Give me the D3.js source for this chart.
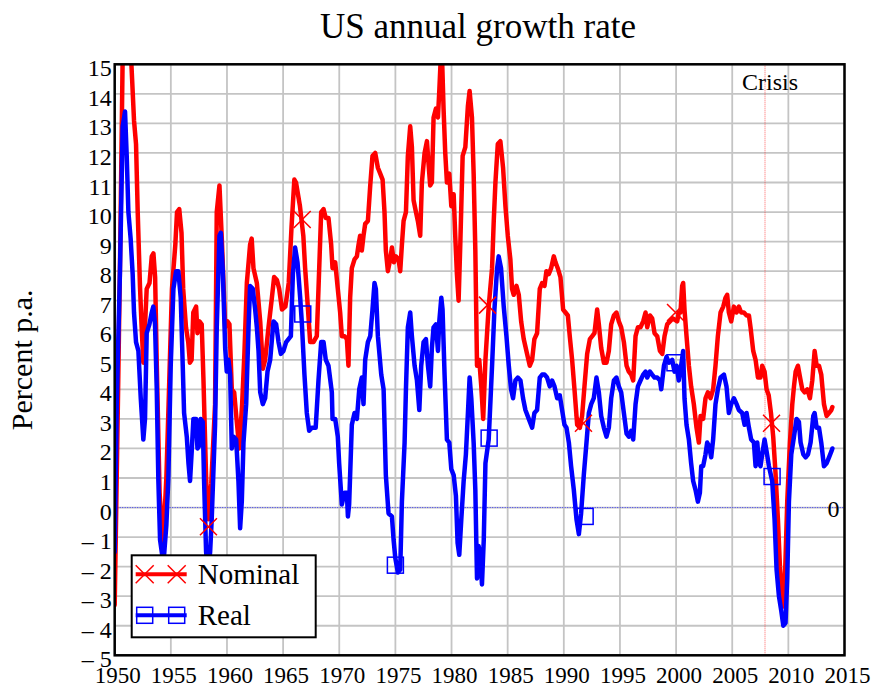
<!DOCTYPE html>
<html>
<head>
<meta charset="utf-8">
<script src="https://cdn.jsdelivr.net/npm/d3@7"></script>
<style>
  body { margin: 0; background: #fff; }
  svg { display: block; }
  svg text { font-family: "Liberation Serif", "Times New Roman", serif; }
</style>
</head>
<body>
<div id="chart"></div>
<script>
// US annual growth rate, year-over-year, percent p.a.
const nominal = [
  [1950.0, -3.3], [1950.3, 3.9], [1950.5, 9.0], [1950.7, 15.0], [1951.0, 17.5], [1951.3, 16.5],
  [1951.55, 14.5], [1951.72, 13.1], [1951.9, 12.3], [1952.05, 10.0], [1952.25, 7.5], [1952.4, 6.1],
  [1952.55, 4.9], [1952.85, 7.4], [1953.1, 7.6], [1953.3, 8.5], [1953.45, 8.6], [1953.6, 7.8],
  [1953.75, 4.8], [1954.0, 0.5], [1954.3, -1.3], [1954.6, 1.0], [1954.8, 3.5], [1955.1, 7.4],
  [1955.4, 8.9], [1955.55, 10.0], [1955.75, 10.1], [1955.95, 9.3], [1956.1, 7.4], [1956.35, 6.1],
  [1956.55, 5.6], [1956.7, 4.9], [1956.85, 5.0], [1957.0, 6.6], [1957.25, 6.8], [1957.37, 5.9],
  [1957.55, 6.3], [1957.75, 6.2], [1957.9, 4.4], [1958.15, 0.9], [1958.35, -0.4], [1958.6, 0.8],
  [1958.94, 3.5], [1959.09, 10.0], [1959.33, 10.9], [1959.55, 9.0], [1959.84, 6.1], [1960.04, 6.3],
  [1960.22, 6.2], [1960.43, 4.0], [1960.64, 3.9], [1960.85, 3.0], [1961.1, 2.0], [1961.35, 3.5],
  [1961.55, 5.2], [1961.77, 7.6], [1962.06, 8.9], [1962.2, 9.1], [1962.36, 8.1], [1962.66, 7.6],
  [1962.96, 6.3], [1963.2, 4.7], [1963.4, 5.0], [1963.7, 6.1], [1964.0, 7.1], [1964.2, 7.8],
  [1964.45, 7.7], [1964.65, 7.4], [1964.9, 6.7], [1965.2, 6.8], [1965.5, 7.6], [1965.75, 9.5],
  [1966.0, 11.1], [1966.15, 11.0], [1966.37, 10.5], [1966.5, 10.2], [1966.8, 9.2], [1966.96, 8.1],
  [1967.2, 6.8], [1967.41, 5.6], [1967.7, 5.6], [1968.0, 5.8], [1968.15, 7.4], [1968.39, 10.0],
  [1968.6, 10.1], [1968.8, 9.8], [1969.04, 9.8], [1969.28, 8.9], [1969.4, 8.1], [1969.64, 8.3],
  [1969.87, 7.4], [1970.08, 6.6], [1970.23, 5.8], [1970.47, 5.8], [1970.68, 5.7], [1970.82, 4.8],
  [1970.97, 7.1], [1971.12, 8.1], [1971.36, 8.4], [1971.57, 8.5], [1971.72, 8.9], [1971.86, 9.2],
  [1972.01, 8.7], [1972.16, 9.2], [1972.31, 9.6], [1972.55, 9.7], [1972.76, 10.9], [1972.96, 11.9],
  [1973.2, 12.0], [1973.44, 11.5], [1973.65, 11.3], [1973.86, 11.1], [1974.03, 10.0], [1974.15, 8.7],
  [1974.33, 8.0], [1974.54, 8.4], [1974.69, 8.8], [1974.87, 8.3], [1975.04, 8.5], [1975.28, 8.4],
  [1975.43, 8.0], [1975.58, 8.9], [1975.73, 9.7], [1975.94, 10.0], [1976.11, 11.9], [1976.32, 12.9],
  [1976.47, 12.2], [1976.62, 10.4], [1976.83, 10.0], [1977.0, 9.7], [1977.21, 9.2], [1977.36, 11.0],
  [1977.6, 12.0], [1977.81, 12.4], [1977.96, 11.6], [1978.1, 10.9], [1978.25, 11.0], [1978.4, 13.2],
  [1978.61, 13.5], [1978.79, 13.2], [1978.91, 14.1], [1979.05, 15.3], [1979.15, 15.3], [1979.29, 13.5],
  [1979.44, 12.0], [1979.59, 11.0], [1979.8, 11.3], [1979.98, 10.2], [1980.19, 10.6], [1980.33, 9.2],
  [1980.48, 7.9], [1980.63, 7.0], [1980.78, 8.9], [1980.99, 11.9], [1981.23, 12.2], [1981.46, 13.6],
  [1981.61, 14.1], [1981.82, 13.2], [1981.97, 11.3], [1982.12, 8.7], [1982.27, 4.8], [1982.47, 5.0],
  [1982.65, 4.1], [1982.82, 3.0], [1983.02, 5.0], [1983.31, 6.8], [1983.61, 8.1], [1983.76, 9.7],
  [1983.91, 11.0], [1984.12, 12.3], [1984.35, 12.4], [1984.59, 11.5], [1984.8, 10.2], [1985.01, 9.2],
  [1985.24, 8.4], [1985.39, 7.4], [1985.54, 7.2], [1985.78, 7.5], [1985.99, 7.2], [1986.2, 6.3],
  [1986.43, 5.7], [1986.73, 5.2], [1986.97, 4.8], [1987.18, 5.0], [1987.38, 5.7], [1987.62, 5.9],
  [1987.86, 7.4], [1988.07, 7.6], [1988.28, 7.5], [1988.45, 8.0], [1988.66, 7.9], [1988.87, 8.1],
  [1989.11, 8.5], [1989.26, 8.3], [1989.46, 8.1], [1989.7, 7.8], [1989.94, 6.7], [1990.15, 6.6],
  [1990.36, 6.5], [1990.53, 5.8], [1990.74, 5.0], [1990.95, 4.0], [1991.19, 2.8], [1991.43, 2.7],
  [1991.63, 3.1], [1991.84, 4.1], [1992.08, 5.2], [1992.32, 5.7], [1992.53, 5.8], [1992.73, 5.9],
  [1992.97, 6.7], [1993.12, 6.2], [1993.33, 5.4], [1993.57, 4.9], [1993.8, 4.9], [1994.01, 5.3],
  [1994.22, 6.2], [1994.46, 6.5], [1994.69, 6.6], [1994.9, 6.3], [1995.11, 6.1], [1995.35, 5.6],
  [1995.59, 4.8], [1995.79, 4.6], [1996.0, 4.5], [1996.18, 4.3], [1996.39, 5.8], [1996.6, 6.1],
  [1996.83, 6.1], [1997.07, 6.3], [1997.28, 6.6], [1997.43, 6.1], [1997.67, 6.5], [1997.87, 6.4],
  [1998.08, 5.9], [1998.32, 5.8], [1998.56, 5.3], [1998.77, 5.2], [1998.97, 5.8], [1999.21, 6.2],
  [1999.45, 6.3], [1999.7, 6.4], [2000.1, 6.3], [2000.24, 6.6], [2000.39, 6.6], [2000.54, 7.5],
  [2000.63, 7.6], [2000.75, 6.7], [2000.93, 5.8], [2001.14, 4.8], [2001.34, 4.1], [2001.58, 3.5],
  [2001.82, 2.7], [2002.03, 2.2], [2002.18, 3.1], [2002.41, 3.0], [2002.62, 3.7], [2002.83, 3.9],
  [2003.07, 3.7], [2003.3, 4.0], [2003.51, 4.8], [2003.72, 5.8], [2003.96, 6.6], [2004.2, 6.8],
  [2004.4, 7.1], [2004.55, 7.2], [2004.7, 6.6], [2004.91, 6.3], [2005.15, 6.8], [2005.39, 6.6],
  [2005.59, 6.8], [2005.8, 6.6], [2006.04, 6.6], [2006.28, 6.5], [2006.49, 6.5], [2006.63, 6.1],
  [2006.87, 5.3], [2007.08, 5.0], [2007.29, 4.4], [2007.52, 4.4], [2007.67, 4.8], [2007.88, 4.6],
  [2008.06, 4.0], [2008.25, 3.8], [2008.45, 3.2], [2008.65, 2.4], [2008.85, 1.2], [2009.07, -0.4],
  [2009.25, -2.0], [2009.46, -3.0], [2009.61, -3.35], [2009.75, -1.7], [2009.9, 0.2], [2010.14, 2.2],
  [2010.35, 3.5], [2010.5, 4.1], [2010.65, 4.6], [2010.85, 4.8], [2011.09, 4.3], [2011.24, 4.0],
  [2011.45, 3.9], [2011.69, 4.0], [2011.92, 3.7], [2012.13, 4.3], [2012.34, 5.3], [2012.52, 4.8],
  [2012.73, 4.8], [2012.93, 4.5], [2013.17, 3.5], [2013.41, 3.1], [2013.62, 3.2], [2013.83, 3.3],
  [2013.92, 3.4]
];

const real = [
  [1950.0, -1.5], [1950.18, 3.5], [1950.47, 8.0], [1950.71, 12.9], [1950.92, 13.4], [1951.07, 11.9],
  [1951.22, 10.0], [1951.42, 9.1], [1951.6, 7.9], [1951.72, 6.6], [1951.9, 5.6], [1952.11, 5.3],
  [1952.32, 3.7], [1952.55, 2.3], [1952.7, 3.0], [1952.85, 5.9], [1953.09, 6.2], [1953.3, 6.6],
  [1953.44, 6.8], [1953.59, 6.2], [1953.74, 4.1], [1953.89, 0.9], [1954.04, -1.1], [1954.34, -1.9],
  [1954.6, -0.6], [1954.78, 1.0], [1954.99, 4.8], [1955.23, 7.4], [1955.47, 8.0], [1955.67, 8.0],
  [1955.88, 7.1], [1956.06, 4.8], [1956.18, 3.2], [1956.42, 2.4], [1956.57, 1.5], [1956.71, 0.9],
  [1956.86, 1.9], [1957.01, 3.0], [1957.25, 3.0], [1957.37, 2.0], [1957.55, 2.1], [1957.66, 3.0],
  [1957.84, 2.9], [1957.96, 0.9], [1958.14, -1.5], [1958.3, -2.3], [1958.5, -1.5], [1958.64, -0.4],
  [1958.94, 2.8], [1959.09, 6.1], [1959.33, 9.2], [1959.45, 9.3], [1959.63, 8.0], [1959.84, 5.4],
  [1959.98, 4.6], [1960.13, 5.0], [1960.28, 4.5], [1960.43, 2.0], [1960.58, 2.4], [1960.82, 2.3],
  [1961.02, 0.9], [1961.17, -0.7], [1961.32, 0.2], [1961.47, 2.2], [1961.71, 3.5], [1961.92, 6.1],
  [1962.06, 7.5], [1962.3, 7.4], [1962.51, 6.7], [1962.66, 6.1], [1962.81, 5.3], [1962.96, 3.9],
  [1963.19, 3.5], [1963.4, 3.7], [1963.61, 4.6], [1963.85, 5.0], [1964.14, 6.3], [1964.38, 6.2],
  [1964.59, 5.6], [1964.8, 5.2], [1965.03, 5.3], [1965.27, 5.6], [1965.48, 5.7], [1965.69, 5.8],
  [1965.87, 7.9], [1966.07, 8.8], [1966.28, 8.3], [1966.52, 7.1], [1966.66, 6.3], [1966.9, 4.5],
  [1967.11, 3.2], [1967.32, 2.6], [1967.56, 2.7], [1967.9, 2.7], [1968.15, 4.3], [1968.39, 5.6],
  [1968.6, 5.6], [1968.8, 5.0], [1969.04, 4.8], [1969.34, 3.9], [1969.4, 3.0], [1969.64, 3.0],
  [1969.87, 2.4], [1969.99, 1.5], [1970.23, 0.1], [1970.47, 0.5], [1970.68, 0.5], [1970.77, -0.3],
  [1970.88, 0.1], [1971.12, 2.8], [1971.36, 3.2], [1971.57, 3.0], [1971.78, 4.0], [1972.01, 4.4],
  [1972.16, 3.5], [1972.31, 5.0], [1972.55, 5.6], [1972.76, 5.8], [1972.96, 6.7], [1973.14, 7.6],
  [1973.26, 7.4], [1973.44, 5.8], [1973.74, 4.5], [1973.95, 4.0], [1974.15, 1.1], [1974.39, -0.2],
  [1974.69, -0.3], [1974.84, -1.1], [1974.99, -1.7], [1975.22, -2.2], [1975.43, -2.1], [1975.58, 0.2],
  [1975.82, 2.2], [1975.94, 4.0], [1976.11, 6.1], [1976.32, 6.6], [1976.47, 5.8], [1976.71, 4.8],
  [1976.92, 4.3], [1977.13, 3.3], [1977.3, 4.8], [1977.51, 5.6], [1977.72, 5.7], [1977.9, 4.8],
  [1978.1, 4.1], [1978.25, 5.4], [1978.4, 6.1], [1978.61, 6.2], [1978.79, 5.3], [1978.91, 6.3],
  [1979.09, 7.1], [1979.2, 6.7], [1979.38, 4.5], [1979.59, 2.3], [1979.8, 2.2], [1979.98, 1.3],
  [1980.19, 1.1], [1980.39, 0.4], [1980.54, -1.2], [1980.69, -1.6], [1980.87, -0.4], [1981.08, 0.9],
  [1981.28, 1.8], [1981.46, 3.2], [1981.61, 4.4], [1981.76, 3.7], [1981.97, 2.2], [1982.12, 0.6],
  [1982.27, -2.4], [1982.41, -1.3], [1982.56, -1.6], [1982.71, -2.6], [1982.87, -1.1], [1983.02, 1.5],
  [1983.31, 2.3], [1983.61, 4.8], [1983.82, 6.7], [1984.06, 8.1], [1984.2, 8.5], [1984.41, 8.1],
  [1984.65, 6.8], [1984.89, 5.8], [1985.1, 4.8], [1985.3, 4.0], [1985.48, 3.7], [1985.69, 4.3],
  [1985.9, 4.4], [1986.14, 4.3], [1986.37, 3.7], [1986.58, 3.3], [1986.88, 3.0], [1987.18, 2.7],
  [1987.38, 3.2], [1987.62, 3.3], [1987.86, 4.4], [1988.07, 4.5], [1988.28, 4.5], [1988.51, 4.4],
  [1988.75, 4.1], [1988.96, 4.3], [1989.17, 4.1], [1989.41, 3.7], [1989.64, 3.8], [1989.85, 3.3],
  [1990.06, 2.8], [1990.24, 2.7], [1990.45, 2.2], [1990.65, 1.4], [1990.89, 0.6], [1991.13, -0.4],
  [1991.34, -0.9], [1991.54, -0.2], [1991.78, 1.1], [1992.02, 2.2], [1992.23, 3.2], [1992.44, 3.5],
  [1992.67, 3.7], [1992.91, 4.4], [1993.12, 3.9], [1993.33, 3.1], [1993.57, 2.7], [1993.8, 2.4],
  [1994.01, 2.7], [1994.22, 3.7], [1994.46, 4.3], [1994.69, 4.4], [1994.9, 4.1], [1995.11, 3.9],
  [1995.35, 3.2], [1995.59, 2.5], [1995.79, 2.4], [1996.0, 2.6], [1996.18, 2.3], [1996.39, 3.5],
  [1996.6, 4.1], [1996.83, 4.3], [1997.07, 4.5], [1997.28, 4.6], [1997.43, 4.4], [1997.67, 4.6],
  [1997.87, 4.5], [1998.08, 4.4], [1998.32, 4.4], [1998.56, 4.3], [1998.68, 4.0], [1998.92, 4.8],
  [1999.15, 5.1], [1999.36, 4.9], [1999.65, 5.0], [1999.86, 4.6], [2000.04, 4.8], [2000.24, 4.3],
  [2000.45, 4.8], [2000.63, 5.3], [2000.75, 3.7], [2000.93, 2.8], [2001.14, 2.3], [2001.34, 1.5],
  [2001.52, 0.9], [2001.73, 0.6], [2001.94, 0.2], [2002.12, 0.5], [2002.24, 1.4], [2002.41, 1.4],
  [2002.62, 1.8], [2002.77, 2.2], [2002.92, 2.1], [2003.13, 1.7], [2003.3, 2.3], [2003.51, 3.5],
  [2003.72, 4.0], [2003.96, 4.4], [2004.26, 4.5], [2004.49, 4.1], [2004.7, 3.2], [2004.91, 3.5],
  [2005.15, 3.7], [2005.39, 3.5], [2005.59, 3.3], [2005.89, 3.2], [2006.1, 2.8], [2006.28, 3.2],
  [2006.49, 2.7], [2006.69, 2.3], [2006.93, 2.2], [2007.08, 1.4], [2007.23, 2.2], [2007.38, 1.5],
  [2007.52, 1.4], [2007.67, 1.8], [2007.88, 2.3], [2008.06, 1.9], [2008.27, 1.4], [2008.56, 0.9],
  [2008.77, -0.4], [2008.95, -2.1], [2009.16, -3.0], [2009.37, -3.5], [2009.55, -4.0], [2009.75, -3.9],
  [2009.9, -2.4], [2010.05, 0.2], [2010.26, 1.8], [2010.5, 2.4], [2010.73, 3.0], [2010.94, 2.9],
  [2011.09, 2.2], [2011.33, 1.8], [2011.54, 1.7], [2011.75, 1.8], [2011.98, 2.2], [2012.22, 3.1],
  [2012.34, 3.2], [2012.52, 2.7], [2012.73, 2.7], [2012.93, 2.2], [2013.17, 1.4], [2013.41, 1.5],
  [2013.62, 1.7], [2013.83, 1.9], [2013.92, 2.0]
];

// marker positions shown on each series
const nominalMarkers = [[1958.35, -0.65], [1966.7, 9.75], [1983.2, 6.85], [1991.75, 2.85], [1999.95, 6.6], [2008.5, 2.85]];
const realMarkers = [[1966.75, 6.55], [1975.0, -1.95], [1983.35, 2.35], [1991.9, -0.3], [1999.9, 4.9], [2008.55, 1.05]];

const xTicks = d3.range(1950, 2016, 5);
const yTicks = d3.range(-5, 16, 1);
const crisisYear = 2007.92;

const width = 876, height = 686;
const plot = { left: 114.7, right: 844.5, top: 64.3, bottom: 655.3 };

const svg = d3.select('#chart')
  .append('svg')
  .attr('width', width)
  .attr('height', height)
  .attr('viewBox', `0 0 ${width} ${height}`);

const x = d3.scaleLinear().domain([1950, 2015]).range([plot.left, plot.right]);
const y = d3.scaleLinear().domain([-5, 15]).range([plot.bottom, plot.top]);

svg.append('defs').append('clipPath')
  .attr('id', 'plot-clip')
  .append('rect')
  .attr('x', plot.left)
  .attr('y', plot.top)
  .attr('width', plot.right - plot.left)
  .attr('height', plot.bottom - plot.top);

// Grid
const grid = svg.append('g').attr('stroke', '#c4c4c4').attr('stroke-width', 1.8);
grid.selectAll('line.gx')
  .data(xTicks)
  .join('line')
  .attr('class', 'gx')
  .attr('x1', d => x(d)).attr('x2', d => x(d))
  .attr('y1', plot.top).attr('y2', plot.bottom);
grid.selectAll('line.gy')
  .data(yTicks)
  .join('line')
  .attr('class', 'gy')
  .attr('x1', plot.left).attr('x2', plot.right)
  .attr('y1', d => y(d)).attr('y2', d => y(d));

// Zero line
svg.append('line')
  .attr('x1', plot.left).attr('x2', plot.right)
  .attr('y1', y(0)).attr('y2', y(0))
  .attr('stroke', '#3a3aff')
  .attr('stroke-width', 1)
  .attr('stroke-dasharray', '1,1.5');

// Crisis line
svg.append('line')
  .attr('x1', x(crisisYear)).attr('x2', x(crisisYear))
  .attr('y1', plot.top).attr('y2', plot.bottom)
  .attr('stroke', '#ff3030')
  .attr('stroke-width', 1)
  .attr('stroke-opacity', 0.75)
  .attr('stroke-dasharray', '1,1');

// Series
const line = d3.line()
  .x(d => x(d[0]))
  .y(d => y(d[1]));

const series = svg.append('g').attr('clip-path', 'url(#plot-clip)');

series.append('path')
  .datum(nominal)
  .attr('d', line)
  .attr('fill', 'none')
  .attr('stroke', '#ff0000')
  .attr('stroke-width', 4.5)
  .attr('stroke-linejoin', 'round')
  .attr('stroke-linecap', 'round');

series.append('path')
  .datum(real)
  .attr('d', line)
  .attr('fill', 'none')
  .attr('stroke', '#0000ff')
  .attr('stroke-width', 4.5)
  .attr('stroke-linejoin', 'round')
  .attr('stroke-linecap', 'round');

const crossPath = (cx, cy, r) =>
  `M${cx - r},${cy - r}L${cx + r},${cy + r}M${cx - r},${cy + r}L${cx + r},${cy - r}`;

series.selectAll('path.xmark')
  .data(nominalMarkers)
  .join('path')
  .attr('class', 'xmark')
  .attr('d', d => crossPath(x(d[0]), y(d[1]), 8.5))
  .attr('stroke', '#ff0000')
  .attr('stroke-width', 1.5)
  .attr('fill', 'none');

series.selectAll('rect.smark')
  .data(realMarkers)
  .join('rect')
  .attr('class', 'smark')
  .attr('x', d => x(d[0]) - 8)
  .attr('y', d => y(d[1]) - 8)
  .attr('width', 16)
  .attr('height', 16)
  .attr('stroke', '#0000ff')
  .attr('stroke-width', 1.5)
  .attr('fill', 'none');

// Frame
svg.append('rect')
  .attr('x', plot.left)
  .attr('y', plot.top)
  .attr('width', plot.right - plot.left)
  .attr('height', plot.bottom - plot.top)
  .attr('fill', 'none')
  .attr('stroke', '#000')
  .attr('stroke-width', 2.5);

// Tick labels
svg.append('g')
  .selectAll('text')
  .data(yTicks)
  .join('text')
  .attr('x', plot.left - 3)
  .attr('y', d => y(d) + 12)
  .attr('text-anchor', 'end')
  .attr('font-size', '24px')
  .attr('fill', '#000')
  .text(d => d < 0 ? `\u2013 ${-d}` : d);

svg.append('g')
  .selectAll('text')
  .data(xTicks)
  .join('text')
  .attr('x', d => x(d) + 3)
  .attr('y', plot.bottom + 28)
  .attr('text-anchor', 'middle')
  .attr('font-size', '23px')
  .attr('fill', '#000')
  .text(d => d);

// Labels
svg.append('text')
  .attr('x', 478)
  .attr('y', 38)
  .attr('text-anchor', 'middle')
  .attr('font-size', '35px')
  .attr('fill', '#000')
  .text('US annual growth rate');

svg.append('text')
  .attr('transform', `translate(32, ${(plot.top + plot.bottom) / 2}) rotate(-90)`)
  .attr('text-anchor', 'middle')
  .attr('font-size', '30px')
  .attr('fill', '#000')
  .text('Percent p.a.');

svg.append('text')
  .attr('x', x(crisisYear) + 5)
  .attr('y', plot.top + 26)
  .attr('text-anchor', 'middle')
  .attr('font-size', '24px')
  .attr('fill', '#000')
  .text('Crisis');

svg.append('text')
  .attr('x', plot.right - 17)
  .attr('y', y(0) + 9.5)
  .attr('font-size', '24px')
  .attr('fill', '#000')
  .text('0');

// Legend
const legend = svg.append('g')
  .attr('transform', `translate(${plot.left + 17}, ${plot.bottom - 100})`);

legend.append('rect')
  .attr('x', 0).attr('y', 0)
  .attr('width', 184).attr('height', 82)
  .attr('fill', '#fff')
  .attr('stroke', '#000')
  .attr('stroke-width', 2);

const items = [
  { name: 'Nominal', color: '#ff0000', marker: 'x', y: 19 },
  { name: 'Real', color: '#0000ff', marker: 'square', y: 60 }
];

items.forEach(it => {
  const g = legend.append('g').attr('transform', `translate(0, ${it.y})`);
  g.append('line')
    .attr('x1', 4).attr('x2', 55)
    .attr('y1', 0).attr('y2', 0)
    .attr('stroke', it.color)
    .attr('stroke-width', 4);
  [13, 45].forEach(cx => {
    if (it.marker === 'x') {
      g.append('path')
        .attr('d', crossPath(cx, 0, 9))
        .attr('stroke', it.color)
        .attr('stroke-width', 1.5)
        .attr('fill', 'none');
    } else {
      g.append('rect')
        .attr('x', cx - 8).attr('y', -8)
        .attr('width', 16).attr('height', 16)
        .attr('stroke', it.color)
        .attr('stroke-width', 1.5)
        .attr('fill', 'none');
    }
  });
  g.append('text')
    .attr('x', 66)
    .attr('y', 10)
    .attr('font-size', '29px')
    .attr('fill', '#000')
    .text(it.name);
});
</script>
</body>
</html>
